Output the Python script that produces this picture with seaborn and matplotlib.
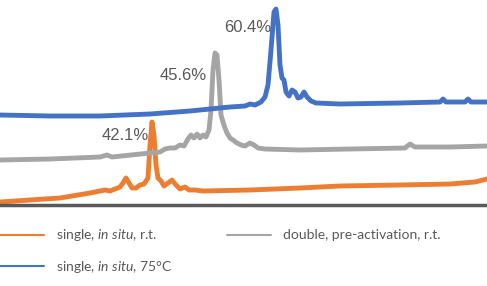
import pandas as pd
import matplotlib.pyplot as plt
import seaborn as sns
from matplotlib.lines import Line2D

# Stacked chromatograms (arbitrary units)
rt_single_rt = [0, 30, 60, 90, 100, 105, 110, 115, 120, 123, 126, 129, 132, 136, 140, 144, 148,
                150, 152, 154, 156, 158, 161, 164, 168, 172, 176, 180, 185, 189, 195, 203,
                250, 300, 340, 400, 450, 475, 487]
sig_single_rt = [3, 5, 7, 12, 14, 15, 14, 16, 18, 22, 27, 22, 17, 17, 20, 21, 27,
                 60, 83, 70, 40, 27, 24, 19, 22, 25, 20, 16, 18, 15, 15, 14,
                 15, 17, 19, 20, 21, 23, 26]

rt_double = [0, 50, 100, 107, 112, 150, 160, 165, 170, 175, 180, 184, 188, 191, 194, 197, 200,
             203, 206, 209, 211, 213, 215, 217, 219, 221, 223, 225, 227, 230, 233, 237, 241,
             245, 250, 254, 258, 265, 300, 350, 405, 410, 415, 450, 487]
sig_double = [45, 46, 48, 50, 48, 52, 53, 56, 57, 57, 60, 59, 66, 70, 67, 71, 67,
              70, 68, 75, 95, 135, 152, 150, 125, 90, 83, 77, 72, 67, 65, 62, 60,
              59, 62, 60, 57, 56, 55, 56, 57, 61, 58, 58, 59]

rt_single_75 = [0, 50, 100, 150, 190, 230, 245, 250, 255, 261, 265, 268, 271, 274, 276, 278,
                280, 282, 284, 286, 289, 292, 295, 298, 301, 304, 307, 311, 316, 340, 400,
                440, 443, 446, 465, 468, 471, 487]
sig_single_75 = [90, 89, 89, 91, 94, 98, 99, 101, 100, 103, 108, 120, 155, 193, 196, 180,
                 140, 127, 125, 113, 109, 115, 113, 107, 108, 113, 108, 104, 102, 101, 102,
                 103, 106, 103, 103, 106, 103, 103]

series_names = ["single, in situ, r.t.", "double, pre-activation, r.t.", "single, in situ, 75°C"]
legend_labels = [r"single, $\mathit{in\ situ}$, r.t.",
                 "double, pre-activation, r.t.",
                 r"single, $\mathit{in\ situ}$, 75°C"]
colors = ["#ED7D31", "#A5A5A5", "#4472C4"]

peak_labels = ["42.1%", "45.6%", "60.4%"]
peak_label_x = [125, 183, 248]
peak_label_y = [70, 130, 178]

df = pd.concat([
    pd.DataFrame({"rt": rt_single_rt, "signal": sig_single_rt, "series": series_names[0]}),
    pd.DataFrame({"rt": rt_double, "signal": sig_double, "series": series_names[1]}),
    pd.DataFrame({"rt": rt_single_75, "signal": sig_single_75, "series": series_names[2]}),
])

sns.set_style("white")
plt.rcParams["font.family"] = ["Liberation Sans", "DejaVu Sans"]
plt.rcParams["mathtext.fontset"] = "custom"
plt.rcParams["mathtext.rm"] = "Lato"
plt.rcParams["mathtext.it"] = "Lato:italic"

fig = plt.figure(figsize=(4.87, 2.86), dpi=100)
ax = fig.add_axes([0, 1 - 205 / 286, 1, 205 / 286])

sns.lineplot(data=df, x="rt", y="signal", hue="series", palette=colors,
             hue_order=series_names, estimator=None, sort=False,
             linewidth=3.5, legend=False, ax=ax)

for txt, x, y in zip(peak_labels, peak_label_x, peak_label_y):
    ax.text(x, y, txt, ha="center", va="center", fontsize=12, color="#595959")

ax.set_xlim(0, 487)
ax.set_ylim(0, 205)
ax.set_xticks([])
ax.set_yticks([])
ax.set_xlabel("")
ax.set_ylabel("")
for side in ["top", "left", "right"]:
    ax.spines[side].set_visible(False)
ax.spines["bottom"].set_color("#595959")
ax.spines["bottom"].set_linewidth(2.5)

# legend: column-major fill gives orange/blue in col 1, gray in col 2
order = [0, 2, 1]
handles = [Line2D([], [], color=colors[i], lw=1.5) for i in order]
labels = [legend_labels[i] for i in order]
fig.legend(handles, labels, loc="upper left", bbox_to_anchor=(0.0, 0.205),
           ncol=2, frameon=False, prop={"family": "Lato", "size": 10},
           labelcolor="#595959", handlelength=3.2, handletextpad=0.85,
           columnspacing=3.9, labelspacing=1.15, borderpad=0, borderaxespad=0)

fig.savefig("out.png", dpi=100)
